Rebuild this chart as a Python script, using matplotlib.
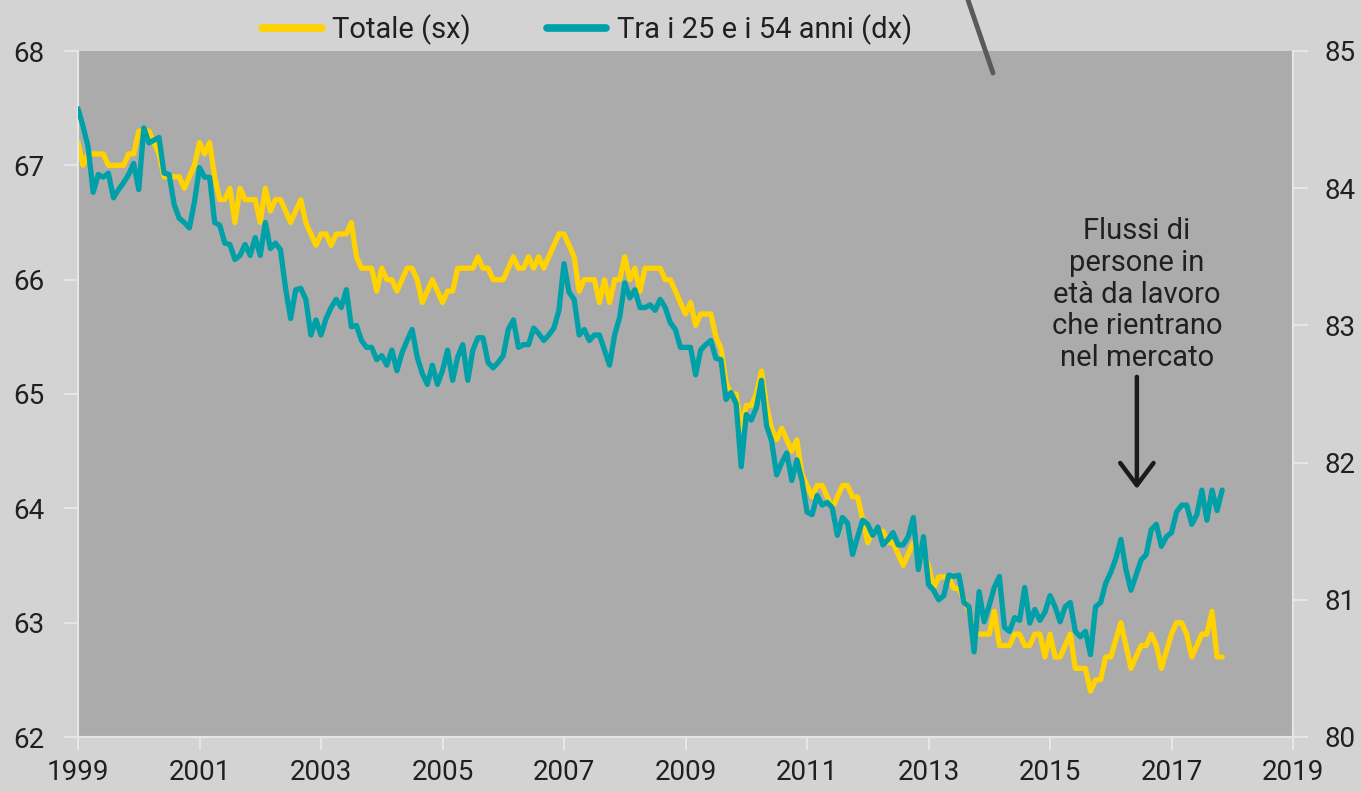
import numpy as np
import matplotlib
matplotlib.use("Agg")
from matplotlib import pyplot as plt
from matplotlib.lines import Line2D

plt.rcParams['font.family'] = ['Roboto', 'DejaVu Sans']

# monthly values, Jan 1999 onward
totale = [67.2, 67.0, 67.1, 67.1, 67.1, 67.1, 67.0, 67.0, 67.0, 67.0, 67.1, 67.1,
          67.3, 67.3, 67.3, 67.2, 67.1, 66.9, 66.9, 66.9, 66.9, 66.8, 66.9, 67.0,
          67.2, 67.1, 67.2, 66.9, 66.7, 66.7, 66.8, 66.5, 66.8, 66.7, 66.7, 66.7,
          66.5, 66.8, 66.6, 66.7, 66.7, 66.6, 66.5, 66.6, 66.7, 66.5, 66.4, 66.3,
          66.4, 66.4, 66.3, 66.4, 66.4, 66.4, 66.5, 66.2, 66.1, 66.1, 66.1, 65.9,
          66.1, 66.0, 66.0, 65.9, 66.0, 66.1, 66.1, 66.0, 65.8, 65.9, 66.0, 65.9,
          65.8, 65.9, 65.9, 66.1, 66.1, 66.1, 66.1, 66.2, 66.1, 66.1, 66.0, 66.0,
          66.0, 66.1, 66.2, 66.1, 66.1, 66.2, 66.1, 66.2, 66.1, 66.2, 66.3, 66.4,
          66.4, 66.3, 66.2, 65.9, 66.0, 66.0, 66.0, 65.8, 66.0, 65.8, 66.0, 66.0,
          66.2, 66.0, 66.1, 65.9, 66.1, 66.1, 66.1, 66.1, 66.0, 66.0, 65.9, 65.8,
          65.7, 65.8, 65.6, 65.7, 65.7, 65.7, 65.5, 65.4, 65.1, 65.0, 65.0, 64.7,
          64.9, 64.9, 65.0, 65.2, 64.9, 64.7, 64.6, 64.7, 64.6, 64.5, 64.6, 64.3,
          64.2, 64.1, 64.2, 64.2, 64.1, 64.0, 64.1, 64.2, 64.2, 64.1, 64.1, 63.9,
          63.7, 63.8, 63.8, 63.8, 63.7, 63.7, 63.6, 63.5, 63.6, 63.7, 63.6, 63.6,
          63.5, 63.3, 63.4, 63.4, 63.4, 63.3, 63.3, 63.2, 63.1, 62.9, 62.9, 62.9,
          62.9, 63.1, 62.8, 62.8, 62.8, 62.9, 62.9, 62.8, 62.8, 62.9, 62.9, 62.7,
          62.9, 62.7, 62.7, 62.8, 62.9, 62.6, 62.6, 62.6, 62.4, 62.5, 62.5, 62.7,
          62.7, 62.85, 63.0, 62.8, 62.6, 62.7, 62.8, 62.8, 62.9, 62.8, 62.6, 62.75,
          62.9, 63.0, 63.0, 62.9, 62.7, 62.8, 62.9, 62.9, 63.1, 62.7, 62.7]

eta_25_54 = [84.58, 84.45, 84.3, 83.97, 84.1, 84.08, 84.11, 83.93, 83.99, 84.04, 84.1, 84.18,
             83.99, 84.44, 84.33, 84.35, 84.37, 84.11, 84.1, 83.88, 83.78, 83.75, 83.71, 83.9,
             84.15, 84.08, 84.08, 83.75, 83.73, 83.6, 83.59, 83.48, 83.51, 83.59, 83.51, 83.64,
             83.51, 83.75, 83.56, 83.6, 83.55, 83.27, 83.05, 83.26, 83.27, 83.19, 82.93, 83.04,
             82.93, 83.05, 83.13, 83.19, 83.13, 83.26, 82.99, 83.0, 82.89, 82.84, 82.84, 82.75,
             82.78, 82.71, 82.82, 82.67, 82.8, 82.89, 82.97, 82.77, 82.65, 82.57, 82.71, 82.57,
             82.67, 82.82, 82.6, 82.77, 82.86, 82.6, 82.82, 82.91, 82.91, 82.73, 82.69, 82.73,
             82.78, 82.97, 83.04, 82.84, 82.86, 82.86, 82.98, 82.94, 82.89, 82.93, 82.98, 83.11,
             83.45, 83.24, 83.19, 82.93, 82.97, 82.89, 82.93, 82.93, 82.82, 82.71, 82.93, 83.06,
             83.31, 83.2, 83.26, 83.13, 83.13, 83.15, 83.11, 83.19, 83.13, 83.02, 82.97, 82.84,
             82.84, 82.84, 82.64, 82.82, 82.86, 82.89, 82.76, 82.75, 82.46, 82.51, 82.43, 81.97,
             82.35, 82.31, 82.4, 82.6, 82.27, 82.16, 81.91, 82.0, 82.07, 81.87, 82.02, 81.87,
             81.64, 81.62, 81.76, 81.69, 81.71, 81.67, 81.47, 81.6, 81.56, 81.33, 81.46, 81.58,
             81.55, 81.47, 81.53, 81.4, 81.44, 81.49, 81.4, 81.4, 81.46, 81.6, 81.22, 81.46,
             81.11, 81.07, 81.0, 81.03, 81.18, 81.17, 81.18, 80.98, 80.95, 80.62, 81.06, 80.84,
             80.96, 81.09, 81.17, 80.8, 80.77, 80.87, 80.85, 81.09, 80.83, 80.93, 80.85, 80.91,
             81.03, 80.95, 80.84, 80.95, 80.98, 80.77, 80.73, 80.77, 80.6, 80.95, 80.98, 81.12,
             81.2, 81.3, 81.44, 81.22, 81.07, 81.18, 81.29, 81.33, 81.51, 81.55, 81.39, 81.46,
             81.49, 81.64, 81.69, 81.69, 81.55, 81.62, 81.8, 81.58, 81.8, 81.65, 81.8]

x_tot = 1999 + np.arange(len(totale)) / 12
x_eta = 1999 + np.arange(len(eta_25_54)) / 12

years = list(range(1999, 2020, 2))

giallo = '#ffd200'
verde = '#00a0a8'
testo = '#231f20'
chiaro = '#e6e6e6'

fig = plt.figure(figsize=(13.61, 7.92), dpi=100, facecolor='#d3d3d3')
ax = fig.add_axes([78/1361, 1-737/792, (1293-78)/1361, (737-51)/792])
ax.set_facecolor('#ababab')
ax2 = ax.twinx()

ax.plot(x_tot, totale, color=giallo, lw=3.8, solid_capstyle='round', zorder=3)
ax2.plot(x_eta, eta_25_54, color=verde, lw=3.8, solid_capstyle='round', zorder=4)

ax.set_xlim(1999, 2019)
ax.set_ylim(62, 68)
ax2.set_ylim(80, 85)
ax.set_xticks(years)
ax.set_yticks(range(62, 69))
ax2.set_yticks(range(80, 86))

for a in (ax, ax2):
    for s in a.spines.values():
        s.set_color(chiaro)
        s.set_linewidth(1.5)
    a.spines['top'].set_visible(False)
ax.tick_params(axis='y', length=10, width=1.5, color=chiaro, pad=14, labelsize=20, labelcolor=testo)
ax.tick_params(axis='x', length=9, width=1.5, color=chiaro, pad=7, labelsize=20, labelcolor=testo)
ax2.tick_params(axis='y', length=11, width=1.5, color=chiaro, pad=12, labelsize=20, labelcolor=testo)

# annotazione
ax.text(2016.43, 65.87, "Flussi di\npersone in\netà da lavoro\nche rientrano\nnel mercato",
        ha='center', va='center', fontsize=21, color=testo, linespacing=1.17, zorder=5)
ax.annotate('', xy=(2016.43, 64.17), xytext=(2016.43, 65.15),
            arrowprops=dict(arrowstyle='->,head_length=0.8,head_width=0.6', color='#1a1a1a',
                            lw=3.2, mutation_scale=20, shrinkA=0, shrinkB=0),
            zorder=5)

# tratto grigio in alto
fig.add_artist(Line2D([968/1361, 993/1361], [1, 1-73/792], color='#5a5a5a', lw=3.5,
                      solid_capstyle='round'))

h1 = Line2D([], [], color=giallo, lw=5.5, solid_capstyle='round')
h2 = Line2D([], [], color=verde, lw=5.5, solid_capstyle='round')
fig.legend([h1, h2], ['Totale (sx)', 'Tra i 25 e i 54 anni (dx)'], loc='center',
           bbox_to_anchor=(587/1361, 1-30/792), ncol=2, frameon=False, fontsize=21,
           handlelength=2.05, columnspacing=2.6, handletextpad=0.35, labelcolor=testo)

fig.savefig('out.png', dpi=100, facecolor=fig.get_facecolor())
